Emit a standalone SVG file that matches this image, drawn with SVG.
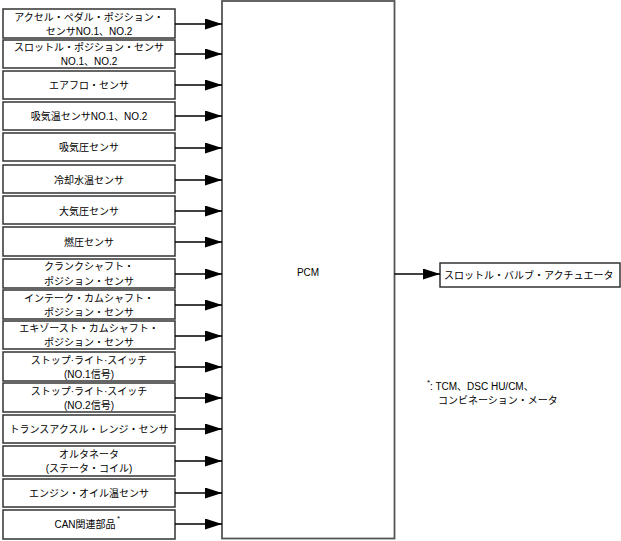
<svg xmlns="http://www.w3.org/2000/svg" width="621" height="541" viewBox="0 0 621 541">
<defs>
<marker id="ah" markerWidth="17" markerHeight="11" refX="17" refY="5.5" orient="auto" markerUnits="userSpaceOnUse">
<path d="M0,0 L17,5.5 L0,11 Z" fill="#000"/>
</marker>
<style>
.box{fill:#fff;stroke:#333;stroke-width:1.5}
.pcm{fill:#fff;stroke:#555;stroke-width:1.8}
.t{font-family:"Liberation Sans","Noto Sans CJK JP",sans-serif;font-size:10px;fill:#000;text-anchor:middle}
.tl{font-family:"Liberation Sans","Noto Sans CJK JP",sans-serif;font-size:10px;fill:#000}
.c{stroke:#000;stroke-width:1.3;fill:none;marker-end:url(#ah)}
</style>
</defs>
<rect width="621" height="541" fill="#fff"/>
<g id="pcm"><rect class="pcm" x="222" y="1" width="172.5" height="537.5"/><text class="t" x="308" y="276">PCM</text></g>
<g id="n1"><rect class="box" x="3" y="9" width="172" height="29"/><text class="t" x="89" y="21">アクセル・ペダル・ポジション・</text><text class="t" x="89" y="35">センサNO.1、NO.2</text></g>
<g id="n2"><rect class="box" x="3" y="40" width="172" height="28"/><text class="t" x="89" y="51">スロットル・ポジション・センサ</text><text class="t" x="89" y="65">NO.1、NO.2</text></g>
<g id="n3"><rect class="box" x="3" y="71" width="172" height="28"/><text class="t" x="89" y="89">エアフロ・センサ</text></g>
<g id="n4"><rect class="box" x="3" y="102" width="172" height="28"/><text class="t" x="89" y="120">吸気温センサNO.1、NO.2</text></g>
<g id="n5"><rect class="box" x="3" y="133" width="172" height="28"/><text class="t" x="89" y="151">吸気圧センサ</text></g>
<g id="n6"><rect class="box" x="3" y="165" width="172" height="28"/><text class="t" x="89" y="184">冷却水温センサ</text></g>
<g id="n7"><rect class="box" x="3" y="196" width="172" height="28"/><text class="t" x="89" y="215">大気圧センサ</text></g>
<g id="n8"><rect class="box" x="3" y="227" width="172" height="29"/><text class="t" x="89" y="246">燃圧センサ</text></g>
<g id="n9"><rect class="box" x="3" y="259" width="172" height="29"/><text class="t" x="89" y="270">クランクシャフト・</text><text class="t" x="89" y="285">ポジション・センサ</text></g>
<g id="n10"><rect class="box" x="3" y="290" width="172" height="29"/><text class="t" x="89" y="302">インテーク・カムシャフト・</text><text class="t" x="89" y="316">ポジション・センサ</text></g>
<g id="n11"><rect class="box" x="3" y="321" width="172" height="28"/><text class="t" x="89" y="332">エキゾースト・カムシャフト・</text><text class="t" x="89" y="346">ポジション・センサ</text></g>
<g id="n12"><rect class="box" x="3" y="352" width="172" height="29"/><text class="t" x="89" y="364">ストップ·ライト·スイッチ</text><text class="t" x="89" y="378">(NO.1信号)</text></g>
<g id="n13"><rect class="box" x="3" y="383" width="172" height="29"/><text class="t" x="89" y="395">ストップ·ライト·スイッチ</text><text class="t" x="89" y="409">(NO.2信号)</text></g>
<g id="n14"><rect class="box" x="3" y="415" width="172" height="28"/><text class="t" x="89" y="433">トランスアクスル・レンジ・センサ</text></g>
<g id="n15"><rect class="box" x="3" y="446" width="172" height="30"/><text class="t" x="89" y="458">オルタネータ</text><text class="t" x="89" y="472">(ステータ・コイル)</text></g>
<g id="n16"><rect class="box" x="3" y="479" width="172" height="28"/><text class="t" x="89" y="497">エンジン・オイル温センサ</text></g>
<g id="n17"><rect class="box" x="3" y="510" width="172" height="29"/><text class="t" x="85" y="528">CAN関連部品</text><text class="tl" x="117" y="521" style="font-size:8px">*</text></g>
<g id="out"><rect class="box" x="440" y="263" width="180" height="24"/><text class="tl" x="444" y="279">スロットル・バルブ・アクチュエータ</text></g>
<g id="note"><text class="tl" x="427" y="385" style="font-size:8px">*</text><text class="tl" x="430" y="390">: TCM、DSC HU/CM、</text><text class="tl" x="438" y="404">コンビネーション・メータ</text></g>
<g id="connectors">
<line class="c" x1="175" y1="24" x2="222" y2="24"/>
<line class="c" x1="175" y1="54" x2="222" y2="54"/>
<line class="c" x1="175" y1="85" x2="222" y2="85"/>
<line class="c" x1="175" y1="116" x2="222" y2="116"/>
<line class="c" x1="175" y1="148" x2="222" y2="148"/>
<line class="c" x1="175" y1="180" x2="222" y2="180"/>
<line class="c" x1="175" y1="211" x2="222" y2="211"/>
<line class="c" x1="175" y1="242" x2="222" y2="242"/>
<line class="c" x1="175" y1="274" x2="222" y2="274"/>
<line class="c" x1="175" y1="305" x2="222" y2="305"/>
<line class="c" x1="175" y1="336" x2="222" y2="336"/>
<line class="c" x1="175" y1="367" x2="222" y2="367"/>
<line class="c" x1="175" y1="398" x2="222" y2="398"/>
<line class="c" x1="175" y1="429" x2="222" y2="429"/>
<line class="c" x1="175" y1="461" x2="222" y2="461"/>
<line class="c" x1="175" y1="493" x2="222" y2="493"/>
<line class="c" x1="175" y1="524" x2="222" y2="524"/>
<line class="c" x1="394.5" y1="274" x2="440" y2="274"/>
</g>
</svg>
